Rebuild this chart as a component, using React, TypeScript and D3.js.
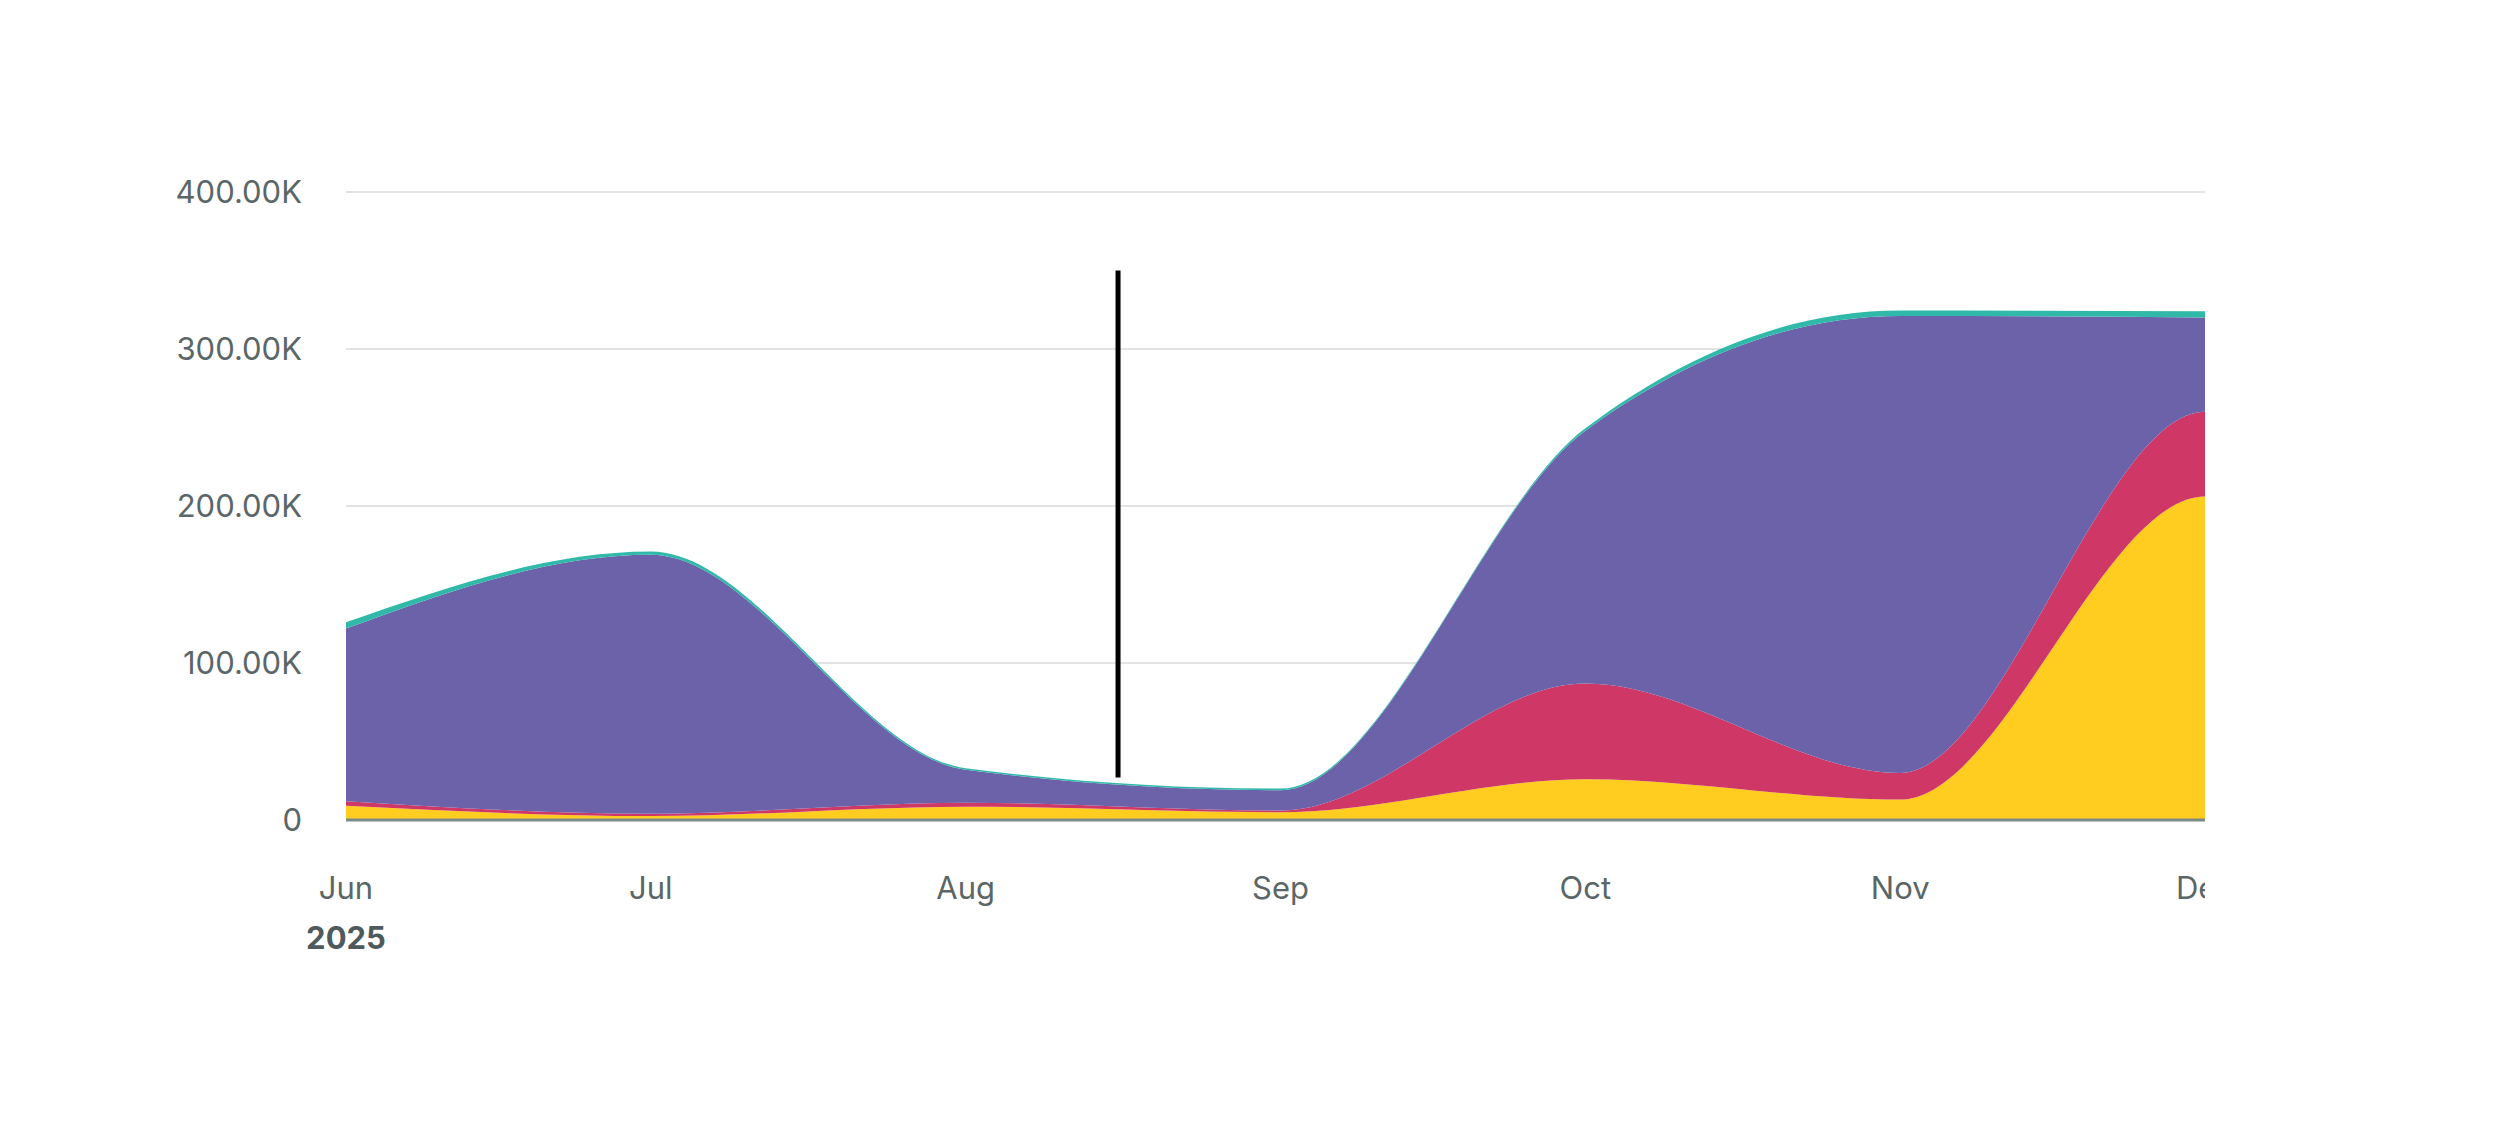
import React, { useRef, useEffect } from "react";
import * as d3 from "d3";

// monthly points, values in thousands (the Jan point lies past the visible range)
const months = ["2025-06-01", "2025-07-01", "2025-08-01", "2025-09-01", "2025-10-01", "2025-11-01", "2025-12-01", "2026-01-01"];
const yellowSeries = [9, 2.5, 8.5, 5, 26, 13, 206, 150];
const redSeries = [3, 1.5, 2.5, 1, 61, 17, 54, 40];
const purpleSeries = [110, 165, 21, 13, 161, 291, 60, 50];
const tealSeries = [4, 2, 1, 1, 1.5, 3.5, 4, 3];

const seriesKeys = ["yellow", "red", "purple", "teal"];
const seriesColors = ["#fecd1f", "#cf3766", "#6b62aa", "#30b9a9"];

const yTicks = [0, 100, 200, 300, 400];
const yTickLabels = ["0", "100.00K", "200.00K", "300.00K", "400.00K"];

const visibleRange = ["2025-06-01", "2025-12-01"];

// vertical marker line
const markerDate = "2025-08-16";
const markerRange = [27, 350];

const App: React.FC = () => {
    const svgRef = useRef<SVGSVGElement>(null);

    useEffect(() => {
        const svgElement = svgRef.current;
        if (!svgElement) return;

        const width = 2500;
        const height = 1135;
        const margin = { top: 192, right: 295, bottom: 315, left: 346 };
        const innerW = width - margin.left - margin.right;
        const innerH = height - margin.top - margin.bottom;

        d3.select(svgElement).selectAll("*").remove();

        const svg = d3
            .select(svgElement)
            .attr("width", width)
            .attr("height", height)
            .attr("viewBox", `0 0 ${width} ${height}`)
            .style("font-family", "Inter, 'Noto Sans', sans-serif");

        const parse = d3.timeParse("%Y-%m-%d");
        const dates = months.map((m) => parse(m) as Date);
        const [start, end] = visibleRange.map((m) => parse(m) as Date);

        const table = dates.map((d, i) => ({
            date: d,
            yellow: yellowSeries[i],
            red: redSeries[i],
            purple: purpleSeries[i],
            teal: tealSeries[i],
        }));

        const x = d3.scaleTime().domain([start, end]).range([0, innerW]);
        const y = d3.scaleLinear().domain([0, 400]).range([innerH, 0]);

        const defs = svg.append("defs");
        defs.append("clipPath")
            .attr("id", "clipRight")
            .append("rect")
            .attr("x", -margin.left)
            .attr("y", -margin.top)
            .attr("width", margin.left + innerW)
            .attr("height", height);
        defs.append("clipPath")
            .attr("id", "clipPlot")
            .append("rect")
            .attr("x", 0)
            .attr("y", -margin.top)
            .attr("width", innerW)
            .attr("height", margin.top + innerH);

        const chart = svg.append("g").attr("transform", `translate(${margin.left}, ${margin.top})`);

        // Gridlines + y labels
        chart
            .append("g")
            .selectAll("line")
            .data(yTicks.filter((t) => t > 0))
            .join("line")
            .attr("x1", 0)
            .attr("x2", innerW)
            .attr("y1", (d) => y(d))
            .attr("y2", (d) => y(d))
            .attr("stroke", "#e2e4e4")
            .attr("stroke-width", 2);

        chart
            .append("g")
            .selectAll("text")
            .data(yTicks)
            .join("text")
            .attr("x", -44)
            .attr("y", (d) => y(d))
            .attr("dy", "0.35em")
            .attr("text-anchor", "end")
            .attr("fill", "#5b6667")
            .attr("font-size", 31)
            .text((d, i) => yTickLabels[i]);

        // Stacked areas
        const stack = d3.stack<any>().keys(seriesKeys);
        const layers = stack(table);

        const area = d3
            .area<any>()
            .x((d) => x(d.data.date))
            .y0((d) => y(d[0]))
            .y1((d) => y(d[1]))
            .curve(d3.curveMonotoneX);

        chart
            .append("g")
            .attr("clip-path", "url(#clipPlot)")
            .selectAll("path")
            .data(layers)
            .join("path")
            .attr("d", area as any)
            .attr("fill", (d, i) => seriesColors[i]);

        // Baseline
        chart
            .append("line")
            .attr("x1", 0)
            .attr("x2", innerW)
            .attr("y1", y(0))
            .attr("y2", y(0))
            .attr("stroke", "#7d8a8a")
            .attr("stroke-width", 3);

        // X axis labels, clipped at the right edge of the plot
        const xLabels = chart.append("g").attr("clip-path", "url(#clipRight)");
        xLabels
            .selectAll("text")
            .data(dates.filter((d) => d <= end))
            .join("text")
            .attr("x", (d) => x(d))
            .attr("y", innerH + 68)
            .attr("dy", "0.35em")
            .attr("text-anchor", "middle")
            .attr("fill", "#5b6667")
            .attr("font-size", 31)
            .text((d) => d3.timeFormat("%b")(d));

        chart
            .append("text")
            .attr("x", x(start))
            .attr("y", innerH + 118)
            .attr("dy", "0.35em")
            .attr("text-anchor", "middle")
            .attr("fill", "#4e5a5c")
            .attr("font-size", 31)
            .attr("font-weight", "bold")
            .text(d3.timeFormat("%Y")(start));

        // Marker line
        const md = parse(markerDate) as Date;
        chart
            .append("line")
            .attr("x1", x(md))
            .attr("x2", x(md))
            .attr("y1", y(markerRange[0]))
            .attr("y2", y(markerRange[1]))
            .attr("stroke", "#000")
            .attr("stroke-width", 5);
    }, []);

    return (
        <svg
            ref={svgRef}
            style={{ position: "absolute", left: 0, top: 0, display: "block", background: "#fff" }}
        ></svg>
    );
};

export default App;
